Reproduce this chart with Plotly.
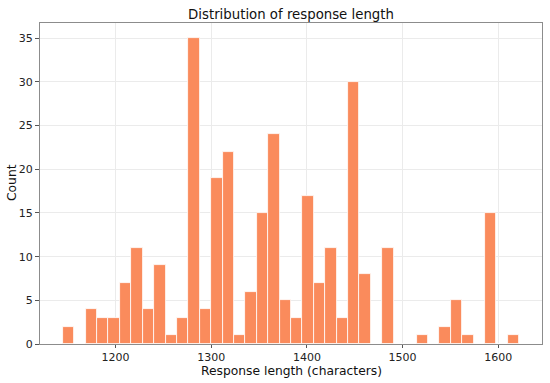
import plotly.graph_objects as go

# Histogram data (40 equal-width bins)
bin_start = 1144.8
bin_width = 11.93
counts = [2, 0, 4, 3, 3, 7, 11, 4, 9, 1,
          3, 35, 4, 19, 22, 1, 6, 15, 24, 5,
          3, 17, 7, 11, 3, 30, 8, 0, 11, 0,
          0, 1, 0, 2, 5, 1, 0, 15, 0, 1]
x_ticks = [1200, 1300, 1400, 1500, 1600]
y_ticks = [0, 5, 10, 15, 20, 25, 30, 35]
title_text = "Distribution of response length"
x_label = "Response length (characters)"
y_label = "Count"

centers = [bin_start + bin_width * (i + 0.5) for i in range(len(counts))]
n = len(counts)
span = bin_width * n
x_range = [bin_start - 0.05 * span, bin_start + span + 0.05 * span]
y_range = [0, max(counts) * 1.05]

fig = go.Figure(go.Bar(
    x=centers, y=counts, width=bin_width,
    marker=dict(color="#FA8B5C", line=dict(color="white", width=0.8)),
    hoverinfo="x+y",
))

font = "DejaVu Sans, Arial, sans-serif"
axis_common = dict(
    showline=True, mirror=True, linecolor="#8c8c8c", linewidth=1,
    ticks="outside", tickcolor="#555555", tickwidth=1,
    showgrid=True, gridcolor="#ebebeb", gridwidth=1,
    zeroline=False, automargin=False,
    tickfont=dict(family=font, size=11, color="#222222"),
)

W, H = 550, 383
L, R, T, B = 40, 8, 23, 39

fig.update_layout(
    width=W, height=H,
    margin=dict(l=L, r=R, t=T, b=B, autoexpand=False),
    paper_bgcolor="white", plot_bgcolor="white",
    bargap=0,
    showlegend=False,
    font=dict(family=font, color="#111111"),
    title=dict(text=title_text, x=291 / W, xanchor="center",
               y=1 - 14 / H, yanchor="middle", automargin=False,
               font=dict(family=font, size=13.3, color="#111111")),
    xaxis=dict(range=x_range, tickvals=x_ticks, ticklen=3, **axis_common),
    yaxis=dict(range=y_range, tickvals=y_ticks, ticklen=4, **axis_common),
    annotations=[
        dict(text=x_label, xref="paper", yref="paper",
             x=(291 - L) / (W - L - R), y=-(370.5 - (H - B)) / (H - T - B),
             xanchor="center", yanchor="middle", showarrow=False, borderpad=0,
             font=dict(family=font, size=12.3, color="#111111")),
        dict(text=y_label, xref="paper", yref="paper", textangle=-90,
             x=-(L - 12) / (W - L - R), y=(H - B - 183) / (H - T - B),
             xanchor="center", yanchor="middle", showarrow=False, borderpad=0,
             font=dict(family=font, size=12.3, color="#111111")),
    ],
)

fig.write_html(
    "out.html",
    config={"displayModeBar": False},
    post_script="document.body.style.margin='0';document.body.style.overflow='hidden';",
)
